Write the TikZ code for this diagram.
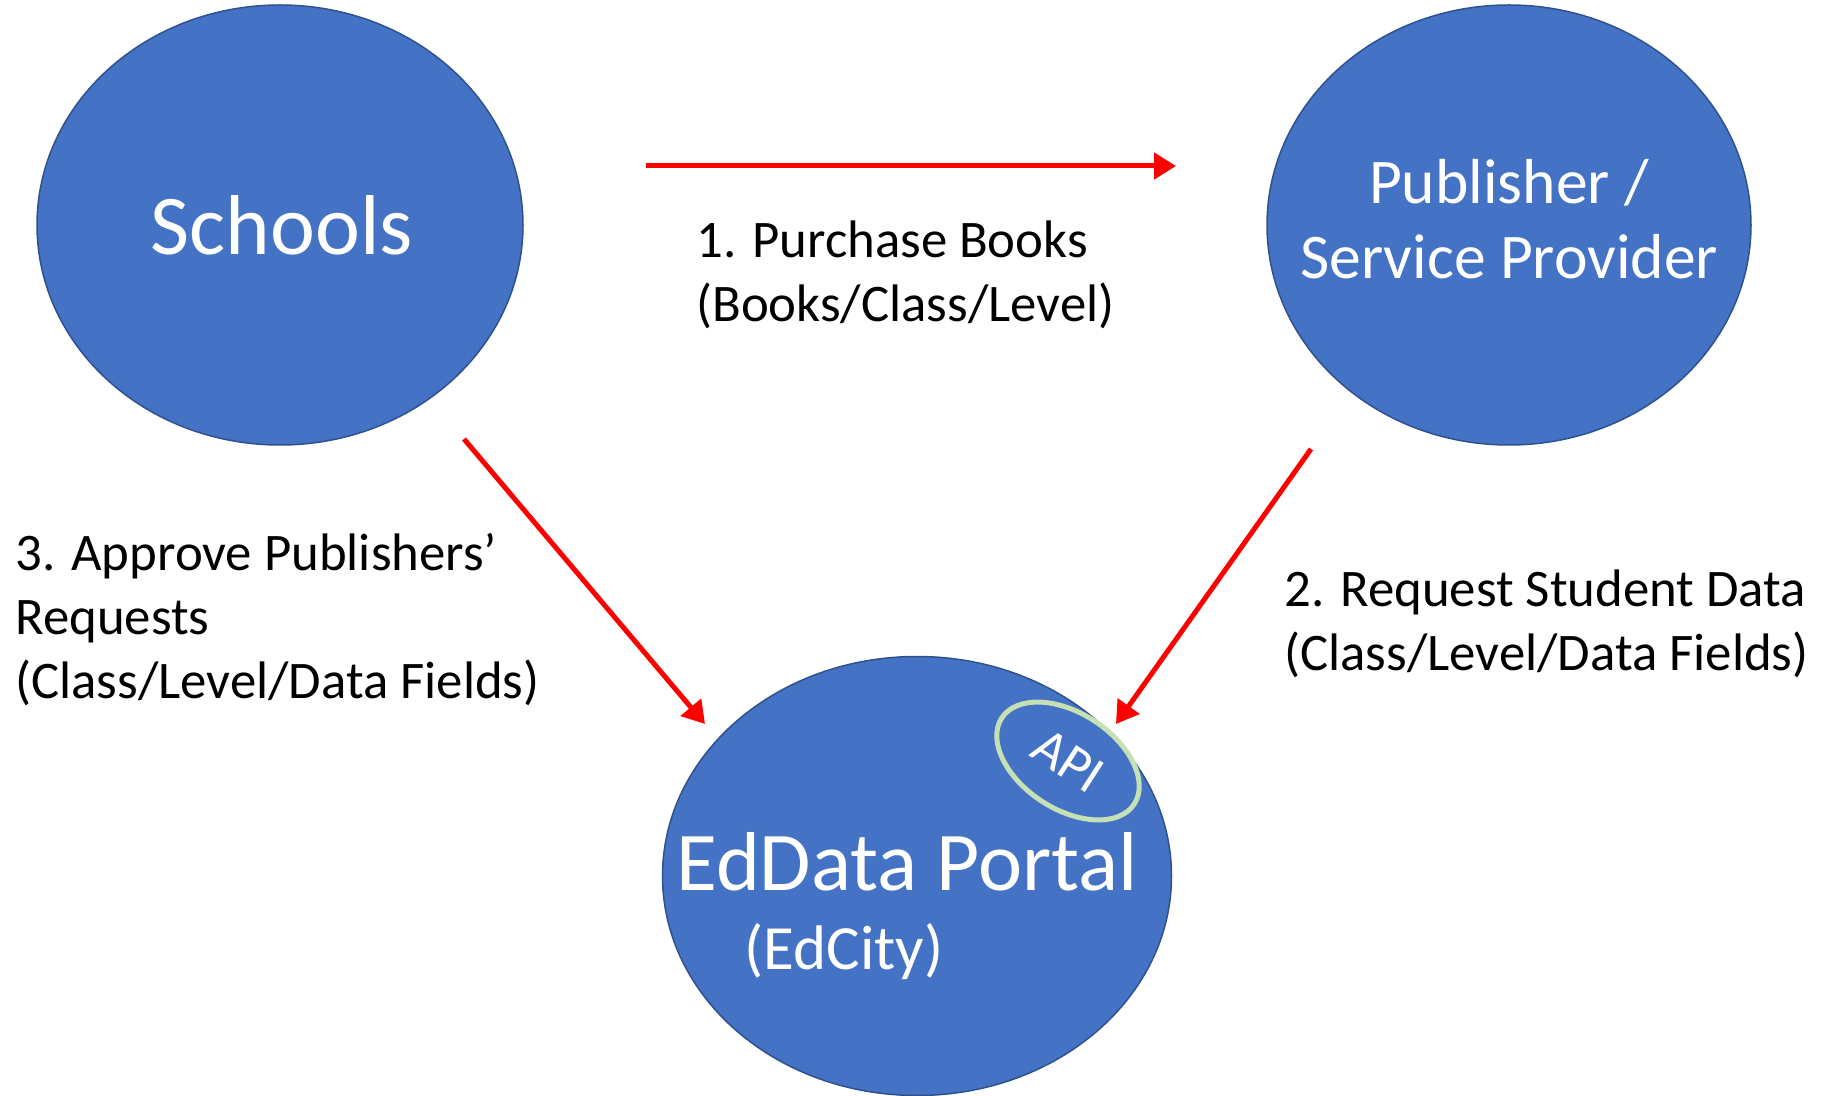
\documentclass[tikz,border=0pt]{standalone}
\usepackage{fontspec}
\setmainfont{Carlito}
\usetikzlibrary{shapes.geometric,arrows.meta}
\definecolor{nodeblue}{HTML}{4472C4}
\definecolor{nodeedge}{HTML}{2F528F}
\definecolor{apigreen}{HTML}{C5E0B4}
\definecolor{arrowred}{HTML}{FF0000}
\tikzset{
  bubble/.style={ellipse, fill=nodeblue, draw=nodeedge, line width=0.75pt, inner sep=0pt, text=white, align=center},
  bubbletext/.style={inner sep=0pt, text=white, align=center},
  redarrow/.style={draw=arrowred, line width=2.5pt, -{Triangle[length=11pt,width=13pt]}},
  steplabel/.style={anchor=west, align=left, inner sep=0pt, text=black, font=\fontsize{26.4}{32}\selectfont}
}
\begin{document}
\begin{tikzpicture}[x=0.5pt,y=-0.5pt]
\useasboundingbox (0,0) rectangle (1822,1096);
% nodes
\node[bubble, minimum width=243pt, minimum height=220pt] (schools) at (280,225) {};
\node[bubbletext, font=\fontsize{42.5}{51}\selectfont] (schoolstext) at (282,225) {Schools};
\node[bubble, minimum width=242pt, minimum height=220pt] (publisher) at (1509,225) {};
\node[bubbletext, font=\fontsize{31.8}{37.7}\selectfont] (publishertext) at (1509,219) {Publisher /\\Service Provider};
\node[bubble, minimum width=254.5pt, minimum height=219.5pt] (portal) at (917,876) {};
\node[bubbletext, font=\fontsize{41.8}{50}\selectfont] (portaltext) at (907,862) {EdData Portal};
\node[bubbletext, font=\fontsize{31.5}{38}\selectfont] (edcity) at (844,952) {(EdCity)};
\node[ellipse, draw=apigreen, line width=2.5pt, inner sep=0pt, minimum width=79pt, minimum height=48pt, rotate=-33, text=white, font=\fontsize{27}{32}\selectfont] (api) at (1068,761) {API};
% connector end points
\coordinate (a1s) at (646,166);
\coordinate (a1e) at (1176,166);
\coordinate (a3s) at (464,439);
\coordinate (a3e) at (705,724);
\coordinate (a2s) at (1311,449);
\coordinate (a2e) at (1116,724);
\draw[redarrow] (a1s) -- (a1e);
\draw[redarrow] (a3s) -- (a3e);
\draw[redarrow] (a2s) -- (a2e);
% labels
\node[steplabel] (l1) at (696,275) {1. Purchase Books\\(Books/Class/Level)};
\node[steplabel] (l3) at (15,620) {3. Approve Publishers’\\Requests\\(Class/Level/Data Fields)};
\node[steplabel] (l2) at (1284,624) {2. Request Student Data\\(Class/Level/Data Fields)};
\end{tikzpicture}
\end{document}
